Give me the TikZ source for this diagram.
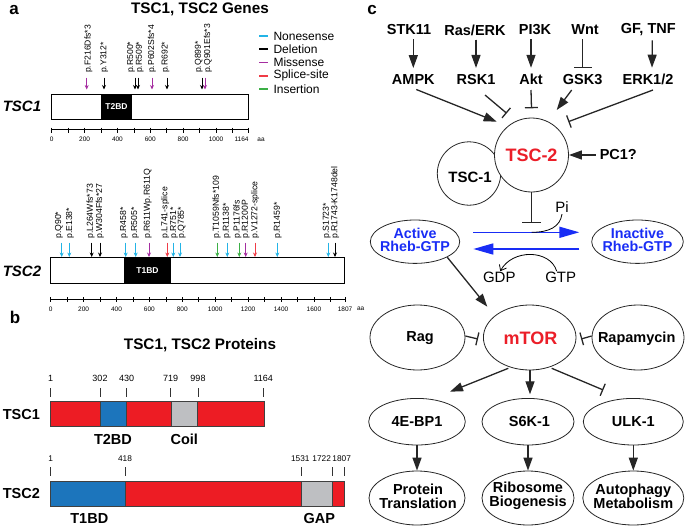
\documentclass[tikz,border=0pt]{standalone}
\usepackage{fontspec}
\setmainfont{Liberation Sans}
\usetikzlibrary{arrows.meta,shapes.geometric,calc}
\definecolor{cyanA}{RGB}{35,180,230}
\definecolor{magA}{RGB}{165,45,160}
\definecolor{spliceA}{RGB}{240,60,70}
\definecolor{insA}{RGB}{60,175,70}
\definecolor{pRed}{RGB}{237,28,36}
\definecolor{pBlue}{RGB}{28,117,188}
\definecolor{pGray}{RGB}{190,191,194}
\definecolor{tRed}{RGB}{235,30,40}
\definecolor{rBlue}{RGB}{25,45,245}
\newcommand\fsz[1]{\fontsize{#1}{#1}\selectfont}
\begin{document}
\begin{tikzpicture}[x=1pt,y=-1pt,
  mut/.style={-{Stealth[length=4.5pt,width=4pt]},line width=0.7pt},
  mlab/.style={rotate=90,anchor=west,inner sep=0pt,font=\fsz{#1}},
  tk/.style={line width=0.6pt},
  axl/.style={font=\fsz{6.5},inner sep=0pt},
  leg/.style={font=\fsz{12},anchor=west,inner sep=0pt},
  seg/.style={draw=black!75,line width=0.8pt},
  pnum/.style={font=\fsz{#1},inner sep=0pt},
  plab/.style={font=\bfseries\fsz{14.5},inner sep=0pt},
  bt/.style={font=\bfseries\fsz{14.5},inner sep=4pt},
  rt/.style={font=\fsz{15},inner sep=1pt},
  carr/.style={-{Triangle[length=13pt,width=9pt]},line width=1.3pt,draw=black!85,fill=black!85},
  cinh/.style={-{Bar[width=#1]},line width=1.3pt,draw=black!85},
  cinh/.default=13pt,
  eln/.style={draw=black!85,ellipse,line width=0.8pt,inner sep=0pt},
  barr/.style={-{Triangle[length=20pt,width=11pt]},line width=1.6pt,draw=rBlue},
]
\useasboundingbox (0,0) rectangle (685,527);

%% ---------------- Panel a ----------------
\node[font=\bfseries\fsz{17}] (la) at (14,10) {a};
\node[font=\bfseries\fsz{15.3}] (ta) at (200,9.5) {TSC1, TSC2 Genes};

% TSC1 gene
\node[font=\bfseries\itshape\fsz{15}] (g1) at (22,106) {TSC1};
\draw[line width=0.8pt] (51.7,94) rectangle (248.3,119);
\fill (101,94) rectangle (132,119);
\node[font=\bfseries\fsz{8.5},text=white] (t2bdA) at (116.5,107) {T2BD};
\foreach \ax/\lx/\col/\txt in {86.7/88.3/magA/p.F216Dfs*3, 104/104.3/black/p.Y312*,
  135/131/black/p.R500*, 138/139.7/black/p.R509*, 152/152/magA/p.P602Sfs*4,
  167/165.5/black/p.R692*, 202/198.8/black/p.Q899*, 205/207.8/magA/p.Q901Efs*3}
{
  \draw[mut,\col] (\ax,77.5) -- (\ax,89.5);
  \node[mlab=8.6] at (\lx,73) {\txt};
}
\draw[tk] (51.7,129) -- (248.3,129);
\foreach \v in {0,100,...,1100} \draw[tk] ({51.7+\v*0.1643},127.5) -- ++(0,5);
\draw[tk] (248.3,127.5) -- ++(0,5);
\foreach \v in {0,200,...,1000} \node[axl] at ({51.7+\v*0.1643},139.7) {\v};
\node[axl] at (241.5,139.7) {1164};
\node[axl] at (261,139.7) {aa};

% legend
\foreach \c/\t/\yy in {cyanA/Nonesense/36, black/Deletion/49.3, magA/Missense/62.5, spliceA/Splice-site/75.8, insA/Insertion/89}
{
  \draw[\c,line width=1.6pt] (259.3,\yy) -- (268.3,\yy);
  \node[leg] at (273.3,\yy) {\t};
}

% TSC2 gene
\node[font=\bfseries\itshape\fsz{15}] (g2) at (22,271) {TSC2};
\draw[line width=0.8pt] (50.7,257.7) rectangle (344.3,283.5);
\fill (124,257.7) rectangle (171,283.5);
\node[font=\bfseries\fsz{8.5},text=white] (t1bdA) at (147.5,271) {T1BD};
\foreach \ax/\lx/\col/\txt in {61.7/59/cyanA/p.Q90*, 69.3/70/cyanA/p.E138*,
  91.7/90.7/black/p.L264Wfs*73, 100/100/black/p.W304Ffs*27,
  125.7/124/cyanA/p.R458*, 135.7/135/cyanA/p.R505*, 149/147.7/magA/p.R611Wp.R611Q,
  167.3/165/spliceA/p.L741-splice, 173.3/174/cyanA/p.R751*, 180/181.7/cyanA/p.Q785*,
  217.3/216.7/insA/p.T1059Nfs*109, 227.3/226.7/cyanA/p.R1138*, 239.3/237.3/insA/p.P1176fs,
  245.7/245.7/magA/p.R1200P, 255/255/spliceA/p.V1272-splice, 277.3/277.7/cyanA/p.R1459*,
  328.3/326.7/cyanA/p.S1723*, 335/335/black/p.R1743-K1748del}
{
  \draw[mut,\col] (\ax,242.5) -- (\ax,257);
  \node[mlab=8.7] at (\lx,239) {\txt};
}
\draw[tk] (50.7,299) -- (345,299);
\foreach \v in {0,100,...,1700} \draw[tk] ({50.7+\v*0.1645},297) -- ++(0,5);
\draw[tk] (345,297) -- ++(0,5);
\foreach \v in {0,200,...,1600} \node[axl] at ({50.7+\v*0.1645},309) {\v};
\node[axl] at (345,309) {1807};
\node[axl] at (360.7,309) {aa};

%% ---------------- Panel b ----------------
\node[font=\bfseries\fsz{17}] (lb) at (15,317) {b};
\node[font=\bfseries\fsz{15.3}] (tb) at (200,345) {TSC1, TSC2 Proteins};

% TSC1 protein
\foreach \x/\t in {50.7/1, 100/302, 126.7/430, 170.7/719, 198/998, 263.3/1164}
{
  \node[pnum=9] at (\x,378) {\t};
  \draw[tk,black!80] (\x,388) -- (\x,397);
}
\draw[seg,fill=pRed] (50.7,401.7) rectangle (100,426);
\draw[seg,fill=pBlue] (100,401.7) rectangle (126.3,426);
\draw[seg,fill=pRed] (126.3,401.7) rectangle (171.3,426);
\draw[seg,fill=pGray] (171.3,401.7) rectangle (197.7,426);
\draw[seg,fill=pRed] (197.7,401.7) rectangle (264.3,426);
\node[plab] (p1) at (21.3,414.3) {TSC1};
\node[plab] (t2bdB) at (113,439) {T2BD};
\node[plab] (coil) at (184.3,439) {Coil};

% TSC2 protein
\foreach \x/\lx/\t in {50.7/50.7/1, 125.7/125/418, 301/300.3/1531, 332.5/321.7/1722, 344.3/341.7/1807}
{
  \node[pnum=8.3] at (\lx,458.3) {\t};
  \draw[tk,black!80] (\x,467) -- (\x,476);
}
\draw[seg,fill=pBlue] (50.7,481.7) rectangle (125.7,506.7);
\draw[seg,fill=pRed] (125.7,481.7) rectangle (301,506.7);
\draw[seg,fill=pGray] (301,481.7) rectangle (332.7,506.7);
\draw[seg,fill=pRed] (332.7,481.7) rectangle (344.3,506.7);
\node[plab] (p2) at (21.3,494) {TSC2};
\node[plab] (t1bdB) at (89.3,518.3) {T1BD};
\node[plab] (gap) at (319.3,518.3) {GAP};

%% ---------------- Panel c ----------------
\node[font=\bfseries\fsz{17}] (lc) at (372,10) {c};

\node[bt] (stk) at (409,30) {STK11};
\node[bt] (ras) at (475,30) {Ras/ERK};
\node[bt] (pik) at (535,30) {PI3K};
\node[bt] (wnt) at (585,30) {Wnt};
\node[bt] (gf)  at (648.3,30) {GF, TNF};

\node[bt] (ampk) at (413.3,79.3) {AMPK};
\node[bt] (rsk)  at (476,79.3) {RSK1};
\node[bt] (akt)  at (531,79.3) {Akt};
\node[bt] (gsk)  at (582.7,79.3) {GSK3};
\node[bt] (erk)  at (648,79.3) {ERK1/2};

\draw[carr] (stk.south -| ampk) -- ([yshift=2pt]ampk.north);
\draw[carr] (ras.south -| rsk) -- ([yshift=2pt]rsk.north);
\draw[carr] (pik.south -| akt) -- ([yshift=2pt]akt.north);
\draw[cinh=18pt] (wnt.south -| gsk) -- ([yshift=2pt]gsk.north);
\draw[carr] ([xshift=4pt]gf.south) -- ([xshift=4pt,yshift=2pt]erk.north);

% TSC complex
\node[draw=black!85,circle,minimum size=63.4,inner sep=0pt,line width=0.8pt] (tsc1) at (469,173.5) {};
\node[font=\bfseries\fsz{15}] (tsc1t) at (470,177.3) {TSC-1};
\node[draw=black!85,circle,minimum size=74,inner sep=0pt,line width=0.8pt,fill=white] (tsc2) at (531.5,155) {};
\node[font=\bfseries\fsz{18},text=tRed] (tsc2t) at (531.5,155.5) {TSC-2};
\node[bt] (pc1) at (618.3,155) {PC1?};
\draw[carr] (pc1.west) -- (tsc2.east);

\draw[carr] ($(ampk.south)+(3,1)$) -- ($(tsc2)+(-34.8,-33.3)$);
\draw[cinh] ($(rsk)+(9,15.7)$) -- ($(tsc2)+(-24.8,-41.7)$);
\draw[cinh] ($(akt)+(0,10.7)$) -- ($(tsc2)+(0,-46.7)$);
\draw[carr] ($(gsk)+(-11,10.7)$) -- ($(tsc2)+(25.2,-45)$);
\draw[cinh] ($(erk)+(5,10.7)$) -- ($(tsc2)+(36.8,-33.3)$);

% Rheb cycle
\coordinate (gbar) at (531.5,223.3);
\draw[cinh=19pt] (tsc2.south) -- (gbar);
\node[eln,minimum width=89.4,minimum height=43.4] (act) at (415,241.7) {};
\node[font=\bfseries\fontsize{14.3}{13}\selectfont,text=rBlue,align=center,inner sep=0pt] (actt) at (415,240.2) {Active\\Rheb-GTP};
\node[eln,minimum width=91.6,minimum height=43.4] (inact) at (637.5,241.7) {};
\node[font=\bfseries\fontsize{14.3}{13}\selectfont,text=rBlue,align=center,inner sep=0pt] (inactt) at (637.5,240.2) {Inactive\\Rheb-GTP};
\coordinate (f1) at (473.3,232.3);
\coordinate (f2) at (579.3,232.3);
\coordinate (r1) at (579.3,249);
\coordinate (r2) at (473.3,249);
\draw[barr] (f1) -- (f2);
\draw[barr] (r1) -- (r2);
\coordinate (pis) at (531.7,232.3);
\node[rt] (pi) at (562,207.5) {Pi};
\draw[line width=0.8pt] (pis) .. controls (549,232.3) and (560,227) .. (pi.south);
\node[rt] (gtp) at (560.7,277.7) {GTP};
\node[rt] (gdp) at (499.3,277.7) {GDP};
\draw[line width=0.8pt,-{Straight Barb[length=5pt,width=8pt]}] ([xshift=-4pt]gtp.north) .. controls (550,249) and (512,249) .. ([xshift=1pt]gdp.north);

% mTOR row
\node[eln,minimum width=92.6,minimum height=65] (mtor) at (529.7,337.5) {};
\node[font=\bfseries\fsz{18},text=tRed] (mtort) at (530.5,338.5) {mTOR};
\node[eln,minimum width=95,minimum height=65] (rag) at (417.5,337.5) {};
\node[bt] (ragt) at (420,338.5) {Rag};
\node[eln,minimum width=92,minimum height=65] (rap) at (638,337.5) {};
\node[bt] (rapt) at (636.7,338.5) {Rapamycin};
\draw[carr] ($(act)+(32.3,15.6)$) -- ($(mtor)+(-42.4,-30.8)$);
\draw[cinh] ([yshift=1.5pt]rag.east) -- ($(mtor.west)+(-5,1.5)$);
\draw[cinh] ([yshift=1.5pt]rap.west) -- ($(mtor.east)+(4.7,1.5)$);

% targets
\node[eln,minimum width=96.6,minimum height=46.6] (eb) at (417,421.7) {};
\node[bt] (ebt) at (417,421.7) {4E-BP1};
\node[eln,minimum width=92,minimum height=46.6] (s6k) at (528,421.7) {};
\node[bt] (s6kt) at (529.5,421.7) {S6K-1};
\node[eln,minimum width=100,minimum height=46.6] (ulk) at (633.3,421.7) {};
\node[bt] (ulkt) at (633.3,421.7) {ULK-1};
\draw[carr] ($(mtor)+(-21.4,30.8)$) -- ($(eb)+(33,-30)$);
\draw[carr] ($(mtor.south)+(0.3,0)$) -- ($(s6k)+(2,-27.4)$);
\draw[cinh] ($(mtor)+(22,30.8)$) -- ($(ulk)+(-30,-31.7)$);

\node[eln,minimum width=96,minimum height=54] (pt) at (417,498) {};
\node[font=\bfseries\fontsize{14.5}{14.3}\selectfont,align=center,inner sep=0pt] (ptt) at (418,496) {Protein\\Translation};
\node[eln,minimum width=92,minimum height=54] (rb) at (528,498) {};
\node[font=\bfseries\fontsize{14.5}{14.3}\selectfont,align=center,inner sep=0pt] (rbt) at (528,496) {Ribosome\\Biogenesis};
\node[eln,minimum width=101,minimum height=54] (ap) at (633.3,498) {};
\node[font=\bfseries\fontsize{14.5}{14.3}\selectfont,align=center,inner sep=0pt] (apt) at (633.3,496) {Autophagy\\Metabolism};
\draw[carr] (eb.south) -- (eb.south |- pt.north);
\draw[carr] (s6k.south) -- (s6k.south |- rb.north);
\draw[carr] (ulk.south) -- (ulk.south |- ap.north);
\end{tikzpicture}
\end{document}
